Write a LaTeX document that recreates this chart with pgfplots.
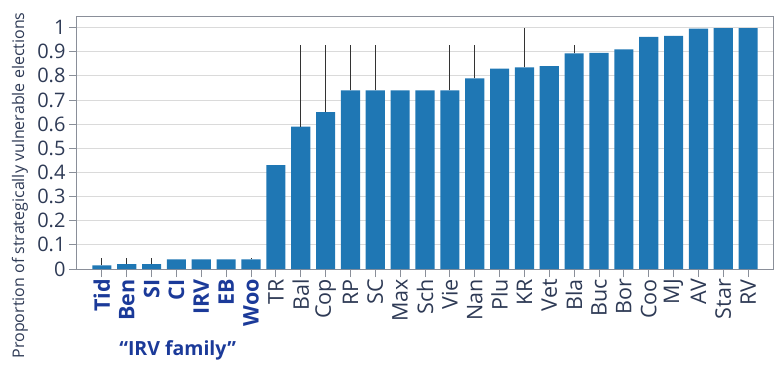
\documentclass[border=0pt]{standalone}
\usepackage{fontspec}
\setmainfont{Open Sans}
\usepackage{pgfplots}
\usepackage{pgfplotstable}
\pgfplotsset{compat=1.18}
\definecolor{barblue}{HTML}{1F77B4}
\definecolor{txt}{HTML}{2E3A55}
\definecolor{irv}{HTML}{1B3A99}
\definecolor{frame}{HTML}{8A8F99}
\definecolor{gridc}{HTML}{DADADA}
\definecolor{errc}{HTML}{333333}
\pgfplotstableread{
x y ep
0 0.015 0.030
1 0.020 0.025
2 0.020 0.025
3 0.040 0
4 0.040 0
5 0.040 0
6 0.040 0.005
7 0.430 0
8 0.590 0.337
9 0.650 0.277
10 0.740 0.187
11 0.740 0.187
12 0.740 0
13 0.740 0
14 0.740 0.187
15 0.790 0.137
16 0.830 0
17 0.835 0.162
18 0.840 0
19 0.893 0.034
20 0.895 0
21 0.910 0
22 0.962 0
23 0.966 0
24 0.996 0
25 0.998 0
26 0.998 0
}\datatable
\begin{document}
\begin{tikzpicture}[x=1pt,y=1pt]
\begin{axis}[
  at={(77pt,104pt)}, anchor=south west,
  scale only axis, width=696pt, height=253pt,
  xmin=-1, xmax=27, ymin=0, ymax=1.048,
  ytick={0,0.1,...,1.0},
  yticklabels={0,0.1,0.2,0.3,0.4,0.5,0.6,0.7,0.8,0.9,1},
  xtick={0,...,26},
  xticklabels={\textbf{\color{irv}Tid},\textbf{\color{irv}Ben},\textbf{\color{irv}SI},\textbf{\color{irv}CI},\textbf{\color{irv}IRV},\textbf{\color{irv}EB},\textbf{\color{irv}Woo},TR,Bal,Cop,RP,SC,Max,Sch,Vie,Nan,Plu,KR,Vet,Bla,Buc,Bor,Coo,MJ,AV,Star,RV},
  xticklabel style={rotate=90, anchor=east, font=\fontsize{21.5}{24}\selectfont, text=txt, inner sep=2pt},
  yticklabel style={font=\fontsize{20}{24}\selectfont, text=txt},
  /pgf/number format/assume math mode=true,
  tick align=outside, major tick length=8pt,
  tick style={frame, line width=0.8pt},
  axis line style={frame, line width=1pt},
  xtick pos=bottom, ytick pos=left,
  ymajorgrids, grid style={gridc, line width=0.9pt},
  ylabel={Proportion of strategically vulnerable elections},
  ylabel style={at={(axis description cs:-0.082,0.33)}, anchor=center, font=\fontsize{16}{18}\selectfont, text=txt},
  clip=false,
]
\addplot[ybar, bar width=0.77, fill=barblue, draw=none,
  error bars/.cd, y dir=plus, y explicit, error mark=none,
  error bar style={errc, line width=0.8pt}]
  table[x=x, y=y, y error plus=ep] {\datatable};
\node[font=\fontsize{19.5}{22}\bfseries, text=irv] at (axis cs:3.05,0) [yshift=-81pt] {“IRV family”};
\end{axis}
\pgfresetboundingbox
\path (0,0) rectangle (779,373);
\end{tikzpicture}
\end{document}
